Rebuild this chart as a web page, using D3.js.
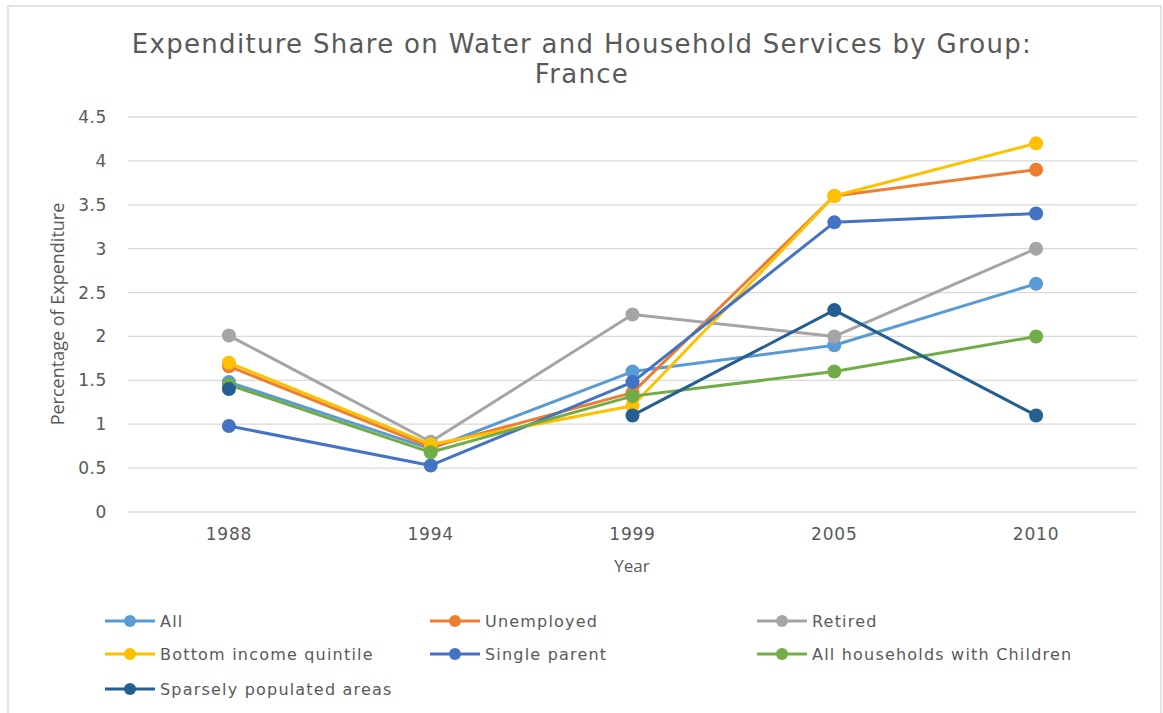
<!DOCTYPE html>
<html>
<head>
<meta charset="utf-8">
<script src="https://cdn.jsdelivr.net/npm/d3@7"></script>
<style>
  html, body { margin: 0; padding: 0; background: #fff; }
  svg { display: block; }
</style>
</head>
<body>
<svg id="chart" width="1163" height="713"></svg>
<script>
// Survey years on the category axis
const years = ["1988", "1994", "1999", "2005", "2010"];

// Expenditure share (%) per household group; null = no survey value
const allHouseholds   = [1.48, 0.72, 1.60, 1.90, 2.60];
const unemployed      = [1.66, 0.74, 1.36, 3.60, 3.90];
const retired         = [2.01, 0.80, 2.25, 2.00, 3.00];
const bottomQuintile  = [1.70, 0.77, 1.21, 3.60, 4.20];
const singleParent    = [0.98, 0.53, 1.48, 3.30, 3.40];
const withChildren    = [1.45, 0.68, 1.32, 1.60, 2.00];
const sparselyPop     = [1.40, null, 1.10, 2.30, 1.10];

const seriesNames = ["All", "Unemployed", "Retired", "Bottom income quintile",
                     "Single parent", "All households with Children",
                     "Sparsely populated areas"];
const seriesColors = ["#5B9BD5", "#ED7D31", "#A5A5A5", "#FFC000",
                      "#4472C4", "#70AD47", "#255E91"];
const seriesValues = [allHouseholds, unemployed, retired, bottomQuintile,
                      singleParent, withChildren, sparselyPop];

const yTicks = [0, 0.5, 1, 1.5, 2, 2.5, 3, 3.5, 4, 4.5];

const series = seriesNames.map((name, i) => ({
  name, color: seriesColors[i],
  points: years.map((yr, j) => ({ year: yr, value: seriesValues[i][j] }))
}));

const svg = d3.select("#chart");
const textColor = "#595959";
const gridColor = "#d9d9d9";

// Chart frame
svg.append("rect")
  .attr("x", 8).attr("y", 6).attr("width", 1153).attr("height", 720)
  .attr("fill", "#fff").attr("stroke", gridColor).attr("stroke-width", 1.5);

// Plot area
const plot = { left: 128, right: 1137, top: 117, bottom: 512 };

const x = d3.scaleBand().domain(years).range([plot.left, plot.right]);
const y = d3.scaleLinear().domain([0, 4.5]).range([plot.bottom, plot.top]);
const cx = d => x(d) + x.bandwidth() / 2;

// Title
const title = svg.append("text")
  .attr("x", 582).attr("text-anchor", "middle")
  .attr("font-family", "DejaVu Sans, sans-serif")
  .attr("font-size", 26).attr("letter-spacing", 1.3).attr("fill", textColor);
title.append("tspan").attr("x", 582).attr("y", 53)
  .text("Expenditure Share on Water and Household Services by Group:");
title.append("tspan").attr("x", 582).attr("y", 83).text("France");

// Horizontal gridlines
svg.append("g")
  .selectAll("line").data(yTicks).join("line")
  .attr("x1", plot.left).attr("x2", plot.right)
  .attr("y1", d => y(d)).attr("y2", d => y(d))
  .attr("stroke", gridColor).attr("stroke-width", 1.3);

// Y axis labels
const yAxis = svg.append("g")
  .attr("transform", `translate(${plot.left - 10},0)`)
  .call(d3.axisLeft(y).tickValues(yTicks).tickSize(0).tickPadding(11)
          .tickFormat(d => String(d)));
yAxis.select(".domain").remove();
yAxis.selectAll("text")
  .attr("font-family", "DejaVu Sans, sans-serif")
  .attr("font-size", 17).attr("letter-spacing", 0.6).attr("fill", textColor);

// X axis labels
const xAxis = svg.append("g")
  .attr("transform", `translate(0,${plot.bottom})`)
  .call(d3.axisBottom(x).tickSize(0).tickPadding(16));
xAxis.select(".domain").remove();
xAxis.selectAll("text")
  .attr("font-family", "DejaVu Sans, sans-serif")
  .attr("font-size", 17).attr("letter-spacing", 0.8).attr("fill", textColor);

// Axis titles
svg.append("text")
  .attr("x", 632).attr("y", 572).attr("text-anchor", "middle")
  .attr("font-family", "Open Sans, sans-serif")
  .attr("font-size", 17).attr("fill", textColor)
  .text("Year");

svg.append("text")
  .attr("transform", "translate(64,314) rotate(-90)")
  .attr("text-anchor", "middle")
  .attr("font-family", "Open Sans, sans-serif")
  .attr("font-size", 18).attr("fill", textColor)
  .text("Percentage of Expenditure");

// Series lines and markers
const line = d3.line()
  .defined(d => d.value !== null)
  .x(d => cx(d.year)).y(d => y(d.value));

const sg = svg.append("g").selectAll("g").data(series).join("g");
sg.append("path")
  .attr("d", d => line(d.points))
  .attr("fill", "none").attr("stroke", d => d.color)
  .attr("stroke-width", 3).attr("stroke-linejoin", "round");
sg.selectAll("circle")
  .data(d => d.points.filter(p => p.value !== null).map(p => ({ ...p, color: d.color })))
  .join("circle")
  .attr("cx", d => cx(d.year)).attr("cy", d => y(d.value))
  .attr("r", 7).attr("fill", d => d.color);

// Legend: three columns, three rows
const legendCols = [105, 430, 757];
const legendRows = [621, 654, 689];
const lg = svg.append("g").selectAll("g").data(series).join("g")
  .attr("transform", (d, i) => `translate(${legendCols[i % 3]},${legendRows[Math.floor(i / 3)]})`);
lg.append("line")
  .attr("x1", 0).attr("x2", 50).attr("y1", 0).attr("y2", 0)
  .attr("stroke", d => d.color).attr("stroke-width", 3);
lg.append("circle").attr("cx", 25).attr("cy", 0).attr("r", 6)
  .attr("fill", d => d.color);
lg.append("text")
  .attr("x", 55).attr("y", 0).attr("dy", "0.35em")
  .attr("font-family", "DejaVu Sans, sans-serif")
  .attr("font-size", 16).attr("letter-spacing", 1.2)
  .attr("fill", textColor)
  .text(d => d.name);
</script>
</body>
</html>
